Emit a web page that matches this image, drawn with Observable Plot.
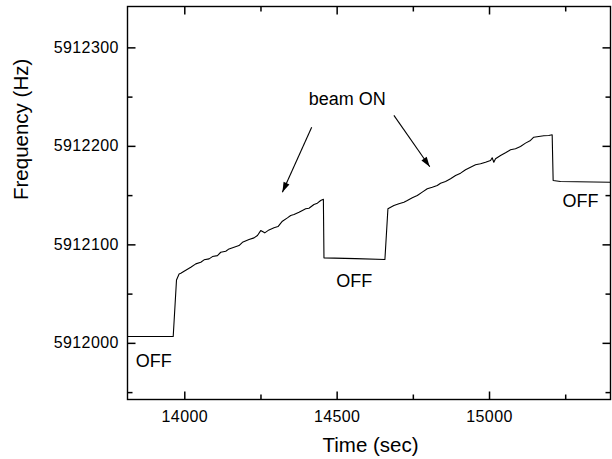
<!DOCTYPE html>
<html><head><meta charset="utf-8">
<script src="https://cdn.jsdelivr.net/npm/d3@7"></script>
<script src="https://cdn.jsdelivr.net/npm/@observablehq/plot@0.6"></script>
<style>
html,body{margin:0;padding:0;background:#fff;}
#chart svg{display:block;}
</style>
</head><body><div id="chart"></div>
<script>
// ---- data ----
const time = [13812, 13962, 13972.8, 13981.3, 13987, 13997.7, 14019.7, 14036.1, 14052.5, 14063.3,
  14079.7, 14090.8, 14107.2, 14118, 14134.4, 14145.2, 14161.6, 14178, 14189.2, 14210.8,
  14227.2, 14238.4, 14249.2, 14262.3, 14276.4, 14292.8, 14305.9, 14320.3, 14336.7, 14347.5,
  14358.4, 14374.8, 14385.9, 14396.7, 14407.5, 14423.9, 14435.1, 14445.9, 14454.8, 14456.7,
  14560, 14656.7, 14666.6, 14686.2, 14702.6, 14719, 14730.2, 14746.6, 14763, 14779.3,
  14795.7, 14812.1, 14828.5, 14839.3, 14855.7, 14872.1, 14888.5, 14905, 14921.3, 14937.7,
  14954.1, 14970.5, 14986.9, 15003.3, 15008.7, 15014.1, 15019.7, 15036.1, 15052.5, 15068.9,
  15085.2, 15101.6, 15118, 15134.4, 15145.2, 15161.6, 15178, 15194.4, 15205.6, 15208.8,
  15232.8, 15397];
const freq = [5912007, 5912007, 5912064.4, 5912070.5, 5912071.1, 5912073.2, 5912077.2, 5912080.7, 5912082.3, 5912084.8,
  5912085.8, 5912088.1, 5912089.1, 5912092.5, 5912093.5, 5912095.9, 5912097.6, 5912099.3, 5912102.6, 5912105.4,
  5912107.1, 5912109.5, 5912114.5, 5912112.2, 5912115.2, 5912117.3, 5912118.6, 5912124, 5912127.4, 5912129.8,
  5912130.8, 5912133.1, 5912134.9, 5912136.6, 5912137.2, 5912141, 5912142.3, 5912145, 5912146.3, 5912086.8,
  5912086, 5912085.1, 5912136.6, 5912139.9, 5912141.7, 5912143.3, 5912145, 5912147.8, 5912150.1, 5912153.5,
  5912156.9, 5912158.5, 5912160.3, 5912162.6, 5912164.3, 5912167.1, 5912170.4, 5912172.8, 5912176.2, 5912178.9,
  5912181.3, 5912182.3, 5912183.9, 5912185.7, 5912188.4, 5912183.9, 5912187.4, 5912190.8, 5912193.5, 5912196.5,
  5912197.6, 5912199.9, 5912203.3, 5912206, 5912209.3, 5912210, 5912210.8, 5912211.1, 5912211.8, 5912165.3,
  5912164.3, 5912163.6];

const xMajor = [14000, 14500, 15000];
const xMinor = [14250, 14750, 15250];
const yMajor = [5912000, 5912100, 5912200, 5912300];
const yMinor = [5911950, 5912050, 5912150, 5912250];

const offText = ["OFF", "OFF", "OFF"];
const offTime = [13898.4, 14555.7, 15298.4];
const offFreq = [5911982.2, 5912063.5, 5912143.8];

const noteText = ["beam ON"];
const noteTime = [14532.8];
const noteFreq = [5912247.5];

const arrowTime1 = [14416.4, 14686.2];
const arrowFreq1 = [5912219.5, 5912231.4];
const arrowTime2 = [14320.3, 14803.9];
const arrowFreq2 = [5912153.4, 5912179.3];

const xLabel = "Time (sec)";
const yLabel = "Frequency (Hz)";

// ---- layout ----
const W = 612, H = 459, mL = 127, mR = 2, mT = 6, mB = 60;
const FW = W - mL - mR, FH = H - mT - mB;
const xDomain = [13812, 15397];
const yDomain = [5911943, 5912342];
const font = "'Liberation Sans', Arial, Helvetica, sans-serif";

const series = time.map((t, i) => ({t, f: freq[i]}));
const offs = offText.map((s, i) => ({s, t: offTime[i], f: offFreq[i]}));
const notes = noteText.map((s, i) => ({s, t: noteTime[i], f: noteFreq[i]}));

// arrow head direction in pixel space (same mapping as the plot's scales)
const sx = d3.scaleLinear(xDomain, [mL, W - mR]);
const sy = d3.scaleLinear(yDomain, [H - mB, mT]);
const arrows = arrowTime1.map((t1, i) => {
  const dx = sx(arrowTime2[i]) - sx(t1), dy = sy(arrowFreq2[i]) - sy(arrowFreq1[i]);
  return {x1: t1, y1: arrowFreq1[i], x2: arrowTime2[i], y2: arrowFreq2[i],
          rot: Math.atan2(dx, -dy) * 180 / Math.PI};
});
const headSymbol = {
  draw(ctx) { ctx.moveTo(0, 0); ctx.lineTo(3.2, 10); ctx.lineTo(-3.2, 10); ctx.closePath(); }
};

// inward ticks on all four sides, as short links (length converted from px to data units)
const xPerPx = (xDomain[1] - xDomain[0]) / FW;
const yPerPx = (yDomain[1] - yDomain[0]) / FH;
const tickSegs = [];
function addX(values, len) {
  for (const v of values) {
    tickSegs.push({x1: v, x2: v, y1: yDomain[0], y2: yDomain[0] + len * yPerPx});
    tickSegs.push({x1: v, x2: v, y1: yDomain[1], y2: yDomain[1] - len * yPerPx});
  }
}
function addY(values, len) {
  for (const v of values) {
    tickSegs.push({y1: v, y2: v, x1: xDomain[0], x2: xDomain[0] + len * xPerPx});
    tickSegs.push({y1: v, y2: v, x1: xDomain[1], x2: xDomain[1] - len * xPerPx});
  }
}
addX(xMajor, 8); addX(xMinor, 5); addY(yMajor, 8); addY(yMinor, 5);

const tickFont = 16;

const chart = Plot.plot({
  width: W, height: H,
  marginLeft: mL, marginRight: mR, marginTop: mT, marginBottom: mB,
  x: {domain: xDomain, label: null},
  y: {domain: yDomain, label: null},
  marks: [
    Plot.axisX({anchor: "bottom", ticks: xMajor, tickSize: 0, tickPadding: 11.5, tickFormat: d => String(d),
      fontSize: tickFont, fontFamily: font, label: null}),
    Plot.axisY({anchor: "left", ticks: yMajor, tickSize: 0, tickPadding: 8.7, tickFormat: d => String(d),
      fontSize: tickFont, fontFamily: font, label: null}),
    Plot.frame({stroke: "black", strokeWidth: 1.4}),
    Plot.line(series, {x: "t", y: "f", stroke: "black", strokeWidth: 1.1, curve: "linear"}),
    Plot.text(offs, {x: "t", y: "f", text: "s", fontSize: 18, fontFamily: font, lineAnchor: "middle", fill: "black"}),
    Plot.text(notes, {x: "t", y: "f", text: "s", fontSize: 18, fontFamily: font, lineAnchor: "middle", fill: "black"}),
    Plot.link(arrows, {x1: "x1", y1: "y1", x2: "x2", y2: "y2", stroke: "black", strokeWidth: 1.1}),
    Plot.dot(arrows, {x: "x2", y: "y2", symbol: headSymbol, rotate: "rot", fill: "black", stroke: "none", r: 5}),
    Plot.link(tickSegs, {x1: "x1", y1: "y1", x2: "x2", y2: "y2", stroke: "black", strokeWidth: 1.5}),
    Plot.text([xLabel], {frameAnchor: "bottom", text: d => d, dx: 1.5, dy: 46.4, fontSize: 20.5, fontFamily: font, lineAnchor: "middle", fill: "black"}),
    Plot.text([yLabel], {frameAnchor: "left", text: d => d, rotate: -90, dx: -105.6, dy: -3, fontSize: 20.5, fontFamily: font, lineAnchor: "middle", fill: "black"})
  ]
});
chart.querySelectorAll("g[aria-label*='tick label'] text").forEach(t => t.setAttribute("letter-spacing", "0.4"));
document.getElementById("chart").appendChild(chart);
</script>
</body></html>
